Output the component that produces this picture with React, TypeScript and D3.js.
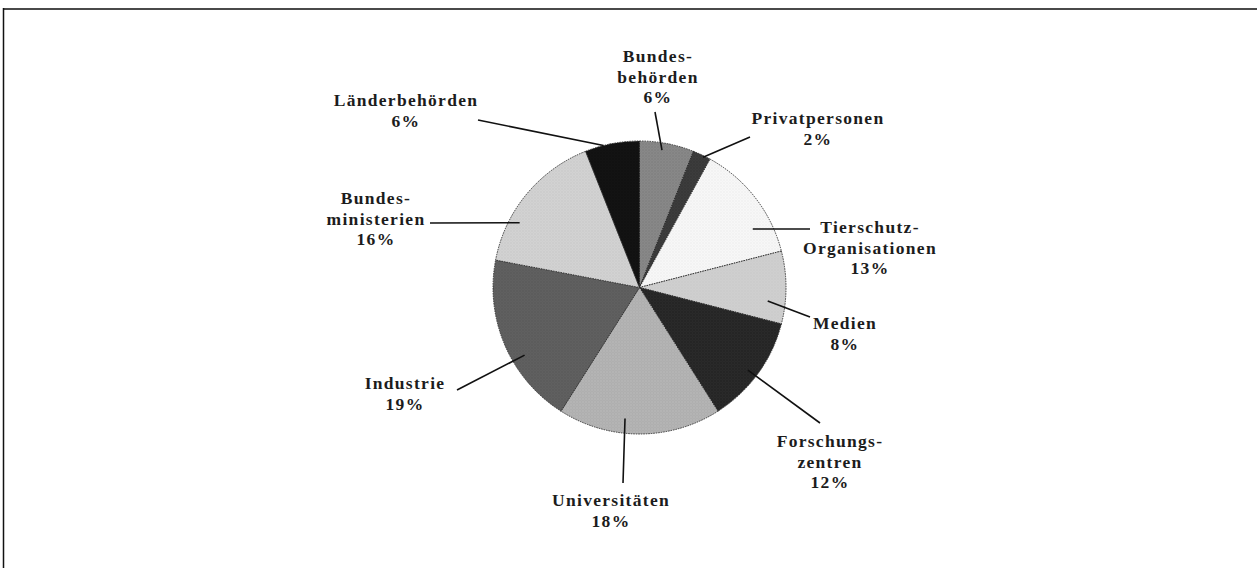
import React from "react";
import * as d3 from "d3";

// Verteilung der Anfragen (Prozent), im Uhrzeigersinn ab 12 Uhr
const categories = [
  "Bundesbehörden",
  "Privatpersonen",
  "Tierschutz-Organisationen",
  "Medien",
  "Forschungszentren",
  "Universitäten",
  "Industrie",
  "Bundesministerien",
  "Länderbehörden",
];
const values = [6, 2, 13, 8, 12, 18, 19, 16, 6];
const labelLines = [
  ["Bundes-", "behörden"],
  ["Privatpersonen"],
  ["Tierschutz-", "Organisationen"],
  ["Medien"],
  ["Forschungs-", "zentren"],
  ["Universitäten"],
  ["Industrie"],
  ["Bundes-", "ministerien"],
  ["Länderbehörden"],
];

// Grauwerte der Segmente (Grundton, Punktton)
const fills = [
  ["#8c8c8c", "#6e6e6e"],
  ["#3e3e3e", "#2a2a2a"],
  ["#fbfbfb", "#dedede"],
  ["#d0d0d0", "#c4c4c4"],
  ["#2c2c2c", "#161616"],
  ["#ababab", "#c6c6c6"],
  ["#636363", "#4c4c4c"],
  ["#d6d6d6", "#b9b9b9"],
  ["#141414", "#0a0a0a"],
];

// Beschriftungs-Layout: Textmitte, erste Zeile y, Leitlinie (außen) und Ankerpunkt im Segment
const labelLayout = [
  { x: 658, y: 58, ox: 655, oy: 112, da: -1.5, rf: 0.95 },
  { x: 818, y: 120, ox: 750, oy: 137, da: 0.8, rf: 0.99 },
  { x: 870, y: 229, ox: 810, oy: 229, da: 10.5, rf: 0.87 },
  { x: 845, y: 325, ox: 810, oy: 317, da: 6, rf: 0.88 },
  { x: 830, y: 443, ox: 820, oy: 423, da: 1.3, rf: 0.93 },
  { x: 611, y: 502, ox: 623, oy: 483, da: 6.3, rf: 0.9 },
  { x: 405, y: 385, ox: 457, oy: 390, da: -7.1, rf: 0.91 },
  { x: 376, y: 200, ox: 430, oy: 223, da: -11.2, rf: 0.93 },
  { x: 406, y: 102, ox: 478, oy: 120, da: -3.4, rf: 1.0 },
];

const W = 1257;
const H = 568;
const cx = 639.5;
const cy = 287.5;
const R = 146.5;
const lineH = 20.5;

export default function App() {
  const pie = d3.pie<number>().sort(null).value((d) => d)(values);
  const arc = d3.arc<d3.PieArcDatum<number>>().innerRadius(0).outerRadius(R);

  return (
    <svg
      width={W}
      height={H}
      style={{ position: "absolute", left: 0, top: 0, background: "#fff" }}
      fontFamily="'Liberation Serif', 'Times New Roman', serif"
    >
      <defs>
        {fills.map((f, i) => (
          <pattern key={i} id={`p${i}`} width={3} height={3} patternUnits="userSpaceOnUse">
            <rect width={3} height={3} fill={f[0]} />
            <rect x={0} y={0} width={1} height={1} fill={f[1]} />
            <rect x={1.5} y={1.5} width={1} height={1} fill={f[1]} />
          </pattern>
        ))}
      </defs>

      {/* Rahmen */}
      <line x1={3} x2={W} y1={9} y2={9} stroke="#4a4a4a" strokeWidth={2} />
      <line x1={3.5} x2={3.5} y1={8} y2={H} stroke="#111" strokeWidth={1.5} />

      <g transform={`translate(${cx},${cy})`}>
        {pie.map((d, i) => (
          <path
            key={categories[i]}
            d={arc(d) || ""}
            fill={`url(#p${i})`}
            stroke="#2a2a2a"
            strokeWidth={0.9}
            strokeDasharray="1.5 1"
          />
        ))}
      </g>

      {pie.map((d, i) => {
        const L = labelLayout[i];
        const mid = (d.startAngle + d.endAngle) / 2 + (L.da * Math.PI) / 180;
        const [px, py] = d3.pointRadial(mid, R * L.rf);
        const lines = [...labelLines[i], `${values[i]}%`];
        return (
          <g key={`l${i}`}>
            <line x1={L.ox} y1={L.oy} x2={cx + px} y2={cy + py} stroke="#111" strokeWidth={1.6} />
            <text
              x={L.x}
              textAnchor="middle"
              fontSize={17.5}
              fontWeight="bold"
              letterSpacing={1.3}
              fill="#1c1c1c"
            >
              {lines.map((t, k) => (
                <tspan key={k} x={L.x} y={L.y + k * lineH} dominantBaseline="middle">
                  {t}
                </tspan>
              ))}
            </text>
          </g>
        );
      })}
    </svg>
  );
}
